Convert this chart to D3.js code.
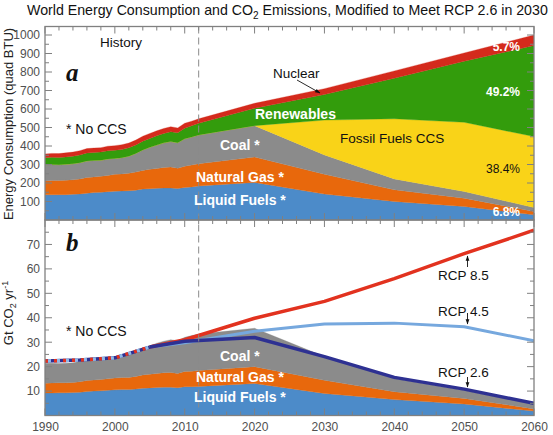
<!DOCTYPE html>
<html><head><meta charset="utf-8">
<script src="https://cdn.jsdelivr.net/npm/d3@7"></script>
<style>body{margin:0;background:#fff} svg{display:block;font-family:"Liberation Sans",Arial,Helvetica,sans-serif}</style>
</head><body><svg id="c" width="553" height="435"></svg>
<script>
// ---------- DATA ----------
const years = [1990,1991,1992,1993,1994,1995,1996,1997,1998,1999,2000,2001,2002,2003,2004,2005,2006,2007,2008,2009,2010,2011,2012,2020,2030,2040,2050,2060];
// Energy consumption, quad BTU
const liquids    = [136,136,137,137,139,141,145,148,150,153,156,157,158,161,167,169,171,173,173,170,176,179,184,203,140,100,73,28];
const natGas     = [75,77,77,78,78,81,85,85,86,88,91,92,95,98,101,105,107,111,113,110,115,118,120,137,107,63,45,18];
const coal       = [88,87,85,86,87,88,89,89,87,89,86,88,92,101,111,119,127,133,138,138,148,152,156,170,105,59,36,21];
const fossilCCS  = [0,0,0,0,0,0,0,0,0,0,0,0,0,0,0,0,0,0,0,0,0,0,0,0,188,325,374,384];
const renewables = [38,39,39,40,41,42,43,43,44,44,44,44,45,46,47,48,50,51,53,54,57,60,63,94,138,219,330,492];
const nuclear    = [20,21,21,22,22,23,24,24,24,25,25,26,26,26,27,27,27,27,27,26,27,25,24,27,32,40,45,57];
// CO2 emissions, Gt CO2 / yr
const co2Liquids = [9.2,9.2,9.3,9.3,9.4,9.5,9.8,10.0,10.1,10.3,10.5,10.6,10.6,10.8,11.2,11.3,11.5,11.6,11.6,11.4,11.8,11.8,11.9,13.1,9.0,6.5,4.7,1.8];
const co2Gas     = [4.0,4.1,4.1,4.1,4.1,4.3,4.5,4.5,4.6,4.7,4.8,4.9,5.0,5.2,5.4,5.6,5.7,5.9,6.0,5.8,6.2,6.3,6.5,6.9,5.4,3.2,2.3,0.9];
const co2Coal    = [8.2,8.1,7.9,8.0,8.1,8.3,8.4,8.4,8.2,8.4,8.7,8.9,9.2,10.0,11.0,11.6,12.4,12.9,13.4,13.4,14.0,14.6,14.9,15.7,9.7,5.4,3.3,1.9];
// RCP pathways
const rcpHistYears = [1990,1995,2000,2005];
const rcpHist      = [22.3,22.7,23.6,28.0];
const rcpYears = [2005,2010,2020,2030,2040,2050,2060];
const rcp85    = [28.0,31.0,39.8,46.7,56.0,66.2,75.8];
const rcp45    = [28.0,29.8,34.5,37.4,37.8,36.3,30.6];
const rcp26    = [28.0,30.4,31.9,24.1,15.6,10.8,5.0];
// ticks
const xTickLabels = [1990,2000,2010,2020,2030,2040,2050,2060];
const yaTickLabels = [100,200,300,400,500,600,700,800,900,1000];
const ybTickLabels = [10,20,30,40,50,60,70];
const historyEnd = 2012;

// ---------- SETUP ----------
const svg = d3.select("#c");
const L = 45, R = 534;
const A = {top:26.5, bottom:220}, B = {top:220, bottom:415.5};
const x  = d3.scaleLinear().domain([1990,2060]).range([L,R]);
const ya = d3.scaleLinear().domain([0,1046]).range([A.bottom,A.top]);
const yb = d3.scaleLinear().domain([0,80]).range([B.bottom,B.top]);

const colors = {liquids:"#4c8bc9", natGas:"#e8680c", coal:"#8b8b8b", fossilCCS:"#f9d318", renewables:"#339c0c", nuclear:"#d42a1c"};
const axisGray = "#808080", labelGray = "#505050";

const rowsA = years.map((yr,i)=>({year:yr, liquids:liquids[i], natGas:natGas[i], coal:coal[i], fossilCCS:fossilCCS[i], renewables:renewables[i], nuclear:nuclear[i]}));
const rowsB = years.map((yr,i)=>({year:yr, liquids:co2Liquids[i], natGas:co2Gas[i], coal:co2Coal[i]}));

const stackA = d3.stack().keys(["liquids","natGas","coal","fossilCCS","renewables","nuclear"])(rowsA);
const stackB = d3.stack().keys(["liquids","natGas","coal"])(rowsB);

const defs = svg.append("defs");
defs.append("clipPath").attr("id","clipA").append("rect").attr("x",L).attr("y",A.top).attr("width",R-L).attr("height",A.bottom-A.top);
defs.append("clipPath").attr("id","clipB").append("rect").attr("x",L).attr("y",B.top).attr("width",R-L).attr("height",B.bottom-B.top);
defs.append("marker").attr("id","ah").attr("viewBox","0 0 10 10").attr("refX",9).attr("refY",5)
  .attr("markerWidth",6).attr("markerHeight",6).attr("orient","auto-start-reverse")
  .append("path").attr("d","M0,1.5L10,5L0,8.5z").attr("fill","#111");

const areaA = d3.area().x(d=>x(d.data.year)).y0(d=>ya(d[0])).y1(d=>ya(d[1]));
const areaB = d3.area().x(d=>x(d.data.year)).y0(d=>yb(d[0])).y1(d=>yb(d[1]));

svg.append("g").attr("clip-path","url(#clipA)").selectAll("path").data(stackA).join("path")
  .attr("d",areaA).attr("fill",d=>colors[d.key]).attr("stroke",d=>colors[d.key]).attr("stroke-width",0.3);
svg.append("g").attr("clip-path","url(#clipB)").selectAll("path").data(stackB).join("path")
  .attr("d",areaB).attr("fill",d=>colors[d.key]).attr("stroke",d=>colors[d.key]).attr("stroke-width",0.3);

// RCP lines
const gl = svg.append("g").attr("clip-path","url(#clipB)").attr("fill","none").attr("stroke-linejoin","round");
const line = d3.line().x(d=>x(d[0])).y(d=>yb(d[1]));
const pts = (ys,vs)=>ys.map((y,i)=>[y,vs[i]]);
gl.append("path").attr("d",line(pts(rcpYears,rcp45))).attr("stroke","#76a8de").attr("stroke-width",3);
gl.append("path").attr("d",line(pts(rcpYears,rcp85))).attr("stroke","#e2321f").attr("stroke-width",3.5);
gl.append("path").attr("d",line(pts(rcpYears,rcp26))).attr("stroke","#2e3192").attr("stroke-width",3.5);
const hp = line(pts(rcpHistYears,rcpHist));
gl.append("path").attr("d",hp).attr("stroke","#2e3192").attr("stroke-width",3.5);
gl.append("path").attr("d",hp).attr("stroke","#e2321f").attr("stroke-width",3.5).attr("stroke-dasharray","3,6");
gl.append("path").attr("d",hp).attr("stroke","#8fb8e6").attr("stroke-width",3.5).attr("stroke-dasharray","3,6").attr("stroke-dashoffset",-3);

// dashed line history/projection
svg.append("line").attr("x1",x(historyEnd)).attr("x2",x(historyEnd)).attr("y1",A.top).attr("y2",B.bottom)
  .attr("stroke","#8a8a8a").attr("stroke-width",1).attr("stroke-dasharray","7,4");

// ---------- AXES / FRAMES ----------
function frame(P, yscale, majors, minors){
  const g = svg.append("g").attr("stroke",axisGray).attr("stroke-width",1);
  const xt = d3.range(1990,2061,2);
  xt.forEach(v=>{
    const len = v%10===0 ? 7 : 4;
    g.append("line").attr("x1",x(v)).attr("x2",x(v)).attr("y1",P.top).attr("y2",P.top+len);
    g.append("line").attr("x1",x(v)).attr("x2",x(v)).attr("y1",P.bottom).attr("y2",P.bottom-len);
  });
  minors.forEach(v=>{
    const len = majors.includes(v) ? 7 : 4;
    g.append("line").attr("x1",L).attr("x2",L+len).attr("y1",yscale(v)).attr("y2",yscale(v));
    g.append("line").attr("x1",R).attr("x2",R-len).attr("y1",yscale(v)).attr("y2",yscale(v));
  });
  svg.append("rect").attr("x",L).attr("y",P.top).attr("width",R-L).attr("height",P.bottom-P.top)
    .attr("fill","none").attr("stroke",axisGray).attr("stroke-width",1.3);
}
frame(A, ya, yaTickLabels, d3.range(50,1046,50));
frame(B, yb, ybTickLabels, d3.range(5,80,5));

// tick labels via d3 axes
const axA = svg.append("g").attr("transform",`translate(${L},0)`)
  .call(d3.axisLeft(ya).tickValues(yaTickLabels).tickFormat(d3.format("d")).tickSize(0).tickPadding(5));
const axB = svg.append("g").attr("transform",`translate(${L},0)`)
  .call(d3.axisLeft(yb).tickValues(ybTickLabels).tickFormat(d3.format("d")).tickSize(0).tickPadding(5));
const axX = svg.append("g").attr("transform",`translate(0,${B.bottom})`)
  .call(d3.axisBottom(x).tickValues(xTickLabels).tickFormat(d3.format("d")).tickSize(0).tickPadding(7));
[axA,axB,axX].forEach(g=>{
  g.select(".domain").remove();
  g.selectAll("text").attr("font-size",12).attr("fill",labelGray).attr("font-family","Liberation Sans, Arial, sans-serif");
});

// ---------- TEXT ----------
const title = svg.append("text").attr("x",27).attr("y",15).attr("font-size",14.2).attr("fill","#111");
title.append("tspan").text("World Energy Consumption and CO");
title.append("tspan").attr("font-size",10).attr("dy",4).text("2");
title.append("tspan").attr("dy",-4).text(" Emissions, Modified to Meet RCP 2.6 in 2030");

svg.append("text").attr("transform","translate(13,124) rotate(-90)").attr("text-anchor","middle")
  .attr("font-size",13).attr("fill","#222").text("Energy Consumption (quad BTU)");
const yl = svg.append("text").attr("transform","translate(13,313) rotate(-90)").attr("text-anchor","middle")
  .attr("font-size",13).attr("fill","#222");
yl.append("tspan").text("Gt CO");
yl.append("tspan").attr("font-size",9).attr("dy",3).text("2");
yl.append("tspan").attr("dy",-3).text(" yr");
yl.append("tspan").attr("font-size",9).attr("dy",-5).text("-1");

const serif = "Liberation Serif, Times New Roman, serif";
svg.append("text").attr("x",66).attr("y",81).attr("font-family",serif).attr("font-style","italic").attr("font-weight","bold").attr("font-size",25).attr("fill","#111").text("a");
svg.append("text").attr("x",66).attr("y",251).attr("font-family",serif).attr("font-style","italic").attr("font-weight","bold").attr("font-size",25).attr("fill","#111").text("b");

function label(t,xx,yy,opt={}){
  return svg.append("text").attr("x",xx).attr("y",yy).attr("font-size",opt.size||13.5)
    .attr("font-weight",opt.bold?"bold":"normal").attr("fill",opt.fill||"#111")
    .attr("text-anchor",opt.anchor||"start").text(t);
}
label("History",100,47,{size:13.5});
label("* No CCS",66,134,{size:14});
label("* No CCS",66,336,{size:14});
label("Nuclear",273,78);
label("Renewables",255,119,{bold:true,fill:"#fff",size:14});
label("Fossil Fuels CCS",340,143);
label("Coal *",220,150,{bold:true,fill:"#fff",size:14});
label("Natural Gas *",196,182,{bold:true,fill:"#fff",size:14});
label("Liquid Fuels *",194,205,{bold:true,fill:"#fff",size:14});
label("5.7%",520,51,{bold:true,fill:"#fff",size:12,anchor:"end"});
label("49.2%",520,96,{bold:true,fill:"#fff",size:12,anchor:"end"});
label("38.4%",520,173,{fill:"#111",size:12,anchor:"end"});
label("6.8%",520,216,{bold:true,fill:"#fff",size:12,anchor:"end"});

label("Coal *",220,361,{bold:true,fill:"#fff",size:14});
label("Natural Gas *",196,382,{bold:true,fill:"#fff",size:14});
label("Liquid Fuels *",194,402,{bold:true,fill:"#fff",size:14});
label("RCP 8.5",438,280);
label("RCP 4.5",438,315.5);
label("RCP 2.6",438,376.5);

// arrows
function arrow(x1,y1,x2,y2){
  svg.append("line").attr("x1",x1).attr("y1",y1).attr("x2",x2).attr("y2",y2)
    .attr("stroke","#111").attr("stroke-width",0.9).attr("marker-end","url(#ah)");
}
arrow(297,80,320,93);
arrow(467.5,267,467.5,256);
arrow(467.5,313,467.5,324);
arrow(467.5,377,467.5,387);
</script></body></html>
